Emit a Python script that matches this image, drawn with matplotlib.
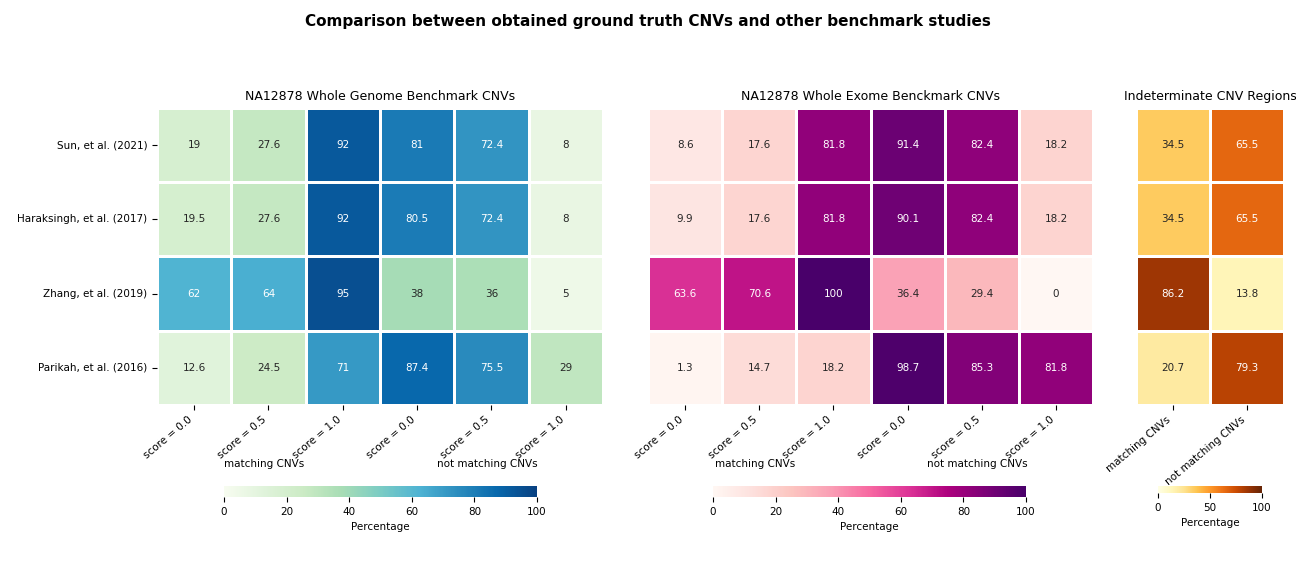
import numpy as np
import matplotlib
matplotlib.use("Agg")
import matplotlib.pyplot as plt
import seaborn as sns

studies = ["Sun, et al. (2021)", "Haraksingh, et al. (2017)", "Zhang, et al. (2019)", "Parikah, et al. (2016)"]
score_cols = ["score = 0.0", "score = 0.5", "score = 1.0", "score = 0.0", "score = 0.5", "score = 1.0"]
indet_cols = ["matching CNVs", "not matching CNVs"]

wgs = [[19, 27.6, 92, 81, 72.4, 8],
       [19.5, 27.6, 92, 80.5, 72.4, 8],
       [62, 64, 95, 38, 36, 5],
       [12.6, 24.5, 71, 87.4, 75.5, 29]]
wes = [[8.6, 17.6, 81.8, 91.4, 82.4, 18.2],
       [9.9, 17.6, 81.8, 90.1, 82.4, 18.2],
       [63.6, 70.6, 100, 36.4, 29.4, 0],
       [1.3, 14.7, 18.2, 98.7, 85.3, 81.8]]
indet = [[34.5, 65.5],
         [34.5, 65.5],
         [86.2, 13.8],
         [20.7, 79.3]]

fig = plt.figure(figsize=(12.96, 5.76), dpi=100)
fig.suptitle("Comparison between obtained ground truth CNVs and other benchmark studies",
             fontsize=11, fontweight="bold", y=0.975)

panels = [
    (wgs, score_cols, "GnBu", "NA12878 Whole Genome Benchmark CNVs",
     [0.1211, 0.2969, 0.3441, 0.5156], [0.1728, 0.137, 0.2415, 0.019], [0, 20, 40, 60, 80, 100], True),
    (wes, score_cols, "RdPu", "NA12878 Whole Exome Benckmark CNVs",
     [0.5, 0.2969, 0.3434, 0.5156], [0.5502, 0.137, 0.2415, 0.019], [0, 20, 40, 60, 80, 100], True),
    (indet, indet_cols, "YlOrBr", "Indeterminate CNV Regions",
     [0.8765, 0.2969, 0.1142, 0.5156], [0.8935, 0.144, 0.0802, 0.012], [0, 50, 100], False),
]

for i, (data, cols, cmap, title, pos, cpos, ticks, groups) in enumerate(panels):
    ax = fig.add_axes(pos)
    cax = fig.add_axes(cpos)
    sns.heatmap(np.array(data), ax=ax, cbar_ax=cax, cmap=cmap, vmin=0, vmax=100,
                annot=True, fmt="g", annot_kws={"fontsize": 7.5},
                linewidths=2, linecolor="white",
                xticklabels=cols, yticklabels=studies if i == 0 else False,
                cbar_kws={"orientation": "horizontal", "ticks": ticks})
    ax.set_title(title, fontsize=9)
    ax.set_xticklabels(cols, rotation=40, ha="right", fontsize=7.5)
    if i == 0:
        ax.set_yticklabels(studies, rotation=0, fontsize=7.5)
        ax.set_ylabel("Other benchmark NA12878 studies", fontsize=7.5, labelpad=10)
    else:
        ax.tick_params(axis="y", left=False)
    if groups:
        ax.text(0.24, -0.21, "matching CNVs", transform=ax.transAxes, ha="center", fontsize=7.5)
        ax.text(0.74, -0.21, "not matching CNVs", transform=ax.transAxes, ha="center", fontsize=7.5)
    cax.tick_params(labelsize=7.5)
    cax.set_xlabel("Percentage", fontsize=7.5)
    for sp in cax.spines.values():
        sp.set_visible(False)

fig.savefig("out.png", dpi=100)
